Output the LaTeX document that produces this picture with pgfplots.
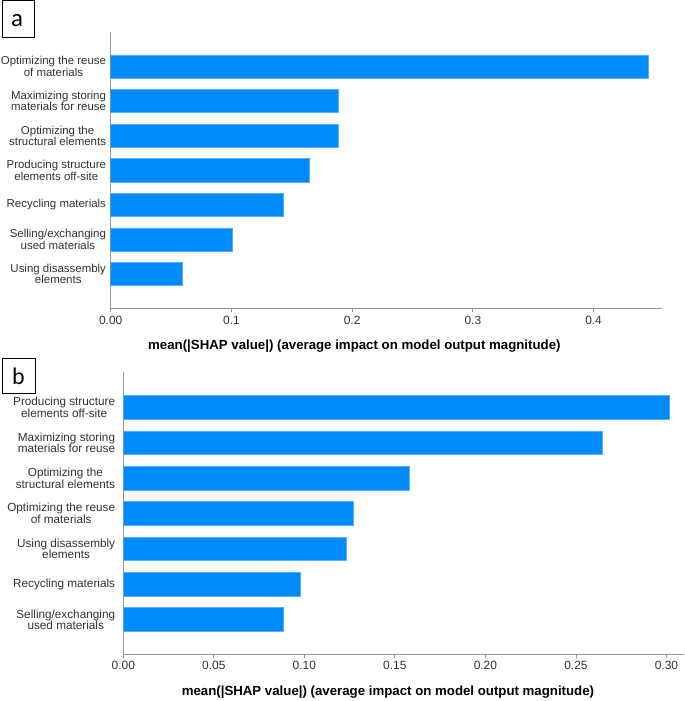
\documentclass[border=0pt]{standalone}
\usepackage{pgfplots}
\pgfplotsset{compat=1.18}
\usepackage{fontspec}
\setmainfont{Liberation Sans}
\newfontfamily\carlito{Carlito}
\definecolor{shapblue}{RGB}{0,139,251}
\definecolor{shapedge}{RGB}{90,175,252}
\definecolor{axgray}{RGB}{150,150,150}
\definecolor{txt}{RGB}{51,51,51}
\pgfplotsset{
  shapstyle/.style={
    scale only axis,
    axis lines*=left,
    axis line style={axgray, line width=1bp},
    xbar, bar width=0.67,
    ymin=0, ymax=8, ytick={1,2,3,4,5,6,7},
    y tick style={draw=none},
    x tick style={axgray, line width=0.8bp},
    tick align=outside, major tick length=3bp,
    yticklabel style={align=center, font=\fontsize{11.8}{11.5}\selectfont, text=txt, anchor=east, inner sep=0pt},
    xticklabel style={font=\fontsize{12}{14}\selectfont, text=txt, anchor=north, inner sep=0pt},
    xlabel style={font=\fontsize{13.3}{15}\selectfont\bfseries, text=black, anchor=base},
  }
}
\begin{document}
\begin{tikzpicture}[x=1bp,y=1bp]
\useasboundingbox (0,0) rectangle (685,701);
\fill[white] (0,0) rectangle (685,701);

% panel a
\begin{axis}[shapstyle,
  at={(110.7bp,392.3bp)}, anchor=south west,
  width=551.3bp, height=276.7bp,
  xmin=0, xmax=0.4567,
  xtick={0,0.1,0.2,0.3,0.4},
  xticklabels={0.00,0.1,0.2,0.3,0.4},
  yticklabel style={xshift=-1.5bp, font=\fontsize{11.5}{11.5}\selectfont},
  xticklabel style={yshift=-4bp},
  yticklabels={{Using disassembly\\elements},{Selling/exchanging\\used materials},{Recycling materials},{Producing structure\\elements off-site},{Optimizing the\\structural elements},{Maximizing storing\\materials for reuse},{Optimizing the reuse\\of materials}},
  xlabel={mean(|SHAP value|) (average impact on model output magnitude)},
  xlabel style={at={(rel axis cs:0.442,0)}, yshift=-40.5bp},
]
\addplot[fill=shapblue, draw=shapedge, line width=0.6bp] coordinates {(0.0592,1) (0.1011,2) (0.1431,3) (0.1646,4) (0.1884,5) (0.1887,6) (0.4452,7)};
\end{axis}

% panel b
\begin{axis}[shapstyle,
  at={(123.3bp,46bp)}, anchor=south west,
  width=560.7bp, height=283bp,
  xmin=0, xmax=0.3097,
  xtick={0,0.05,0.1,0.15,0.2,0.25,0.3},
  xticklabels={0.00,0.05,0.10,0.15,0.20,0.25,0.30},
  yticklabel style={xshift=-5bp},
  xticklabel style={yshift=-3bp},
  yticklabels={{Selling/exchanging\\used materials},{Recycling materials},{Using disassembly\\elements},{Optimizing the reuse\\of materials},{Optimizing the\\structural elements},{Maximizing storing\\materials for reuse},{Producing structure\\elements off-site}},
  xlabel={mean(|SHAP value|) (average impact on model output magnitude)},
  xlabel style={at={(rel axis cs:0.472,0)}, yshift=-40bp},
]
\addplot[fill=shapblue, draw=shapedge, line width=0.6bp] coordinates {(0.0882,1) (0.0980,2) (0.1230,3) (0.1269,4) (0.1578,5) (0.2643,6) (0.3015,7)};
\end{axis}

% panel letters
\draw[black, line width=1bp] (2.5,663.5) rectangle (34,700.5);
\node[font=\carlito\fontsize{25}{25}\selectfont, anchor=base] at (17,674) {a};
\draw[black, line width=1bp] (2.5,307) rectangle (35,342.5);
\node[font=\carlito\fontsize{24}{24}\selectfont, anchor=base] at (18.5,316) {b};
\end{tikzpicture}
\end{document}
